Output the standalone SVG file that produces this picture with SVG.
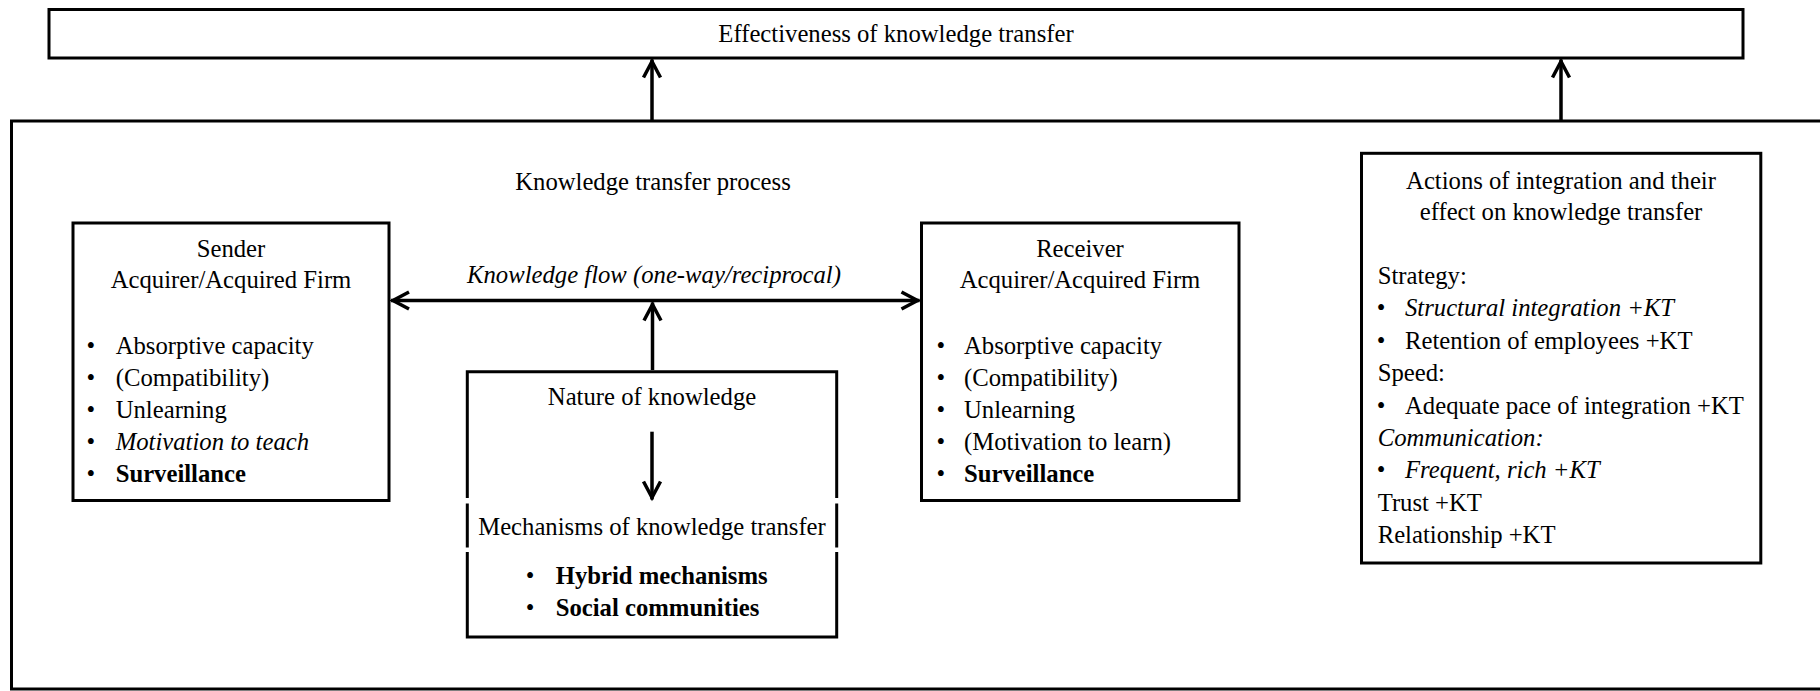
<svg xmlns="http://www.w3.org/2000/svg" width="1820" height="691" viewBox="0 0 1820 691">
  <style>
    text { font-family: "Liberation Serif", "Times New Roman", serif; font-size: 24.7px; fill: #000; }
    .c { text-anchor: middle; }
    .i { font-style: italic; }
    .b { font-weight: bold; }
    .box { fill: #fff; stroke: #000; stroke-width: 3; }
    .edge { fill: none; stroke: #000; stroke-width: 3; }
    .conn { fill: none; stroke: #000; stroke-width: 3.5; }
  </style>
  <defs>
    <marker id="chev" markerUnits="userSpaceOnUse" markerWidth="40" markerHeight="40" viewBox="-30 -20 40 40" refX="0" refY="0" orient="auto-start-reverse" overflow="visible">
      <path d="M -18 -8.5 L -2 0 L -18 8.5" fill="none" stroke="#000" stroke-width="3.5" stroke-linejoin="miter"/>
    </marker>
  </defs>

  <!-- outer frame of the transfer process (runs off the right edge) -->
  <g id="process-frame">
    <rect class="box" x="11.5" y="121" width="1830" height="568"/>
    <text class="c" x="653" y="190">Knowledge transfer process</text>
  </g>

  <!-- outcome -->
  <g id="effectiveness">
    <rect class="box" x="49" y="9.5" width="1694" height="48.5"/>
    <text class="c" x="896" y="42">Effectiveness of knowledge transfer</text>
  </g>

  <!-- sender -->
  <g id="sender">
    <rect class="box" x="73" y="223" width="316" height="277.5"/>
    <text class="c" x="231" y="257">Sender</text>
    <text class="c" x="231" y="288">Acquirer/Acquired Firm</text>
    <text x="86.5" y="354">•</text><text x="115.7" y="354">Absorptive capacity</text>
    <text x="86.5" y="386">•</text><text x="115.7" y="386">(Compatibility)</text>
    <text x="86.5" y="418">•</text><text x="115.7" y="418">Unlearning</text>
    <text x="86.5" y="450">•</text><text class="i" x="115.7" y="450">Motivation to teach</text>
    <text x="86.5" y="482">•</text><text class="b" x="115.7" y="482">Surveillance</text>
  </g>

  <!-- receiver -->
  <g id="receiver">
    <rect class="box" x="921.5" y="223" width="317.5" height="277.5"/>
    <text class="c" x="1080" y="257">Receiver</text>
    <text class="c" x="1080" y="288">Acquirer/Acquired Firm</text>
    <text x="936.4" y="354">•</text><text x="964" y="354">Absorptive capacity</text>
    <text x="936.4" y="386">•</text><text x="964" y="386">(Compatibility)</text>
    <text x="936.4" y="418">•</text><text x="964" y="418">Unlearning</text>
    <text x="936.4" y="450">•</text><text x="964" y="450">(Motivation to learn)</text>
    <text x="936.4" y="482">•</text><text class="b" x="964" y="482">Surveillance</text>
  </g>

  <!-- nature of knowledge and mechanisms -->
  <g id="knowledge-mechanisms">
    <rect x="467.3" y="371.7" width="369.4" height="265.3" fill="#fff"/>
    <path class="edge" d="M 467.3 498 V 371.7 H 836.7 V 498 M 467.3 503.5 V 547.5 M 836.7 503.5 V 547.5 M 467.3 552 V 637 H 836.7 V 552"/>
    <text class="c" x="652" y="405">Nature of knowledge</text>
    <text class="c" x="652" y="535">Mechanisms of knowledge transfer</text>
    <text x="525.7" y="584">•</text><text class="b" x="555.7" y="584">Hybrid mechanisms</text>
    <text x="525.7" y="616">•</text><text class="b" x="555.7" y="616">Social communities</text>
  </g>

  <!-- integration actions -->
  <g id="integration-actions">
    <rect class="box" x="1361.5" y="153.3" width="399.3" height="409.7"/>
    <text class="c" x="1561" y="189">Actions of integration and their</text>
    <text class="c" x="1561" y="220">effect on knowledge transfer</text>
    <text x="1377.7" y="284">Strategy:</text>
    <text x="1376.7" y="316.4">•</text><text class="i" x="1405" y="316.4">Structural integration +KT</text>
    <text x="1376.7" y="348.8">•</text><text x="1405" y="348.8">Retention of employees +KT</text>
    <text x="1377.7" y="381.2">Speed:</text>
    <text x="1376.7" y="413.6">•</text><text x="1405" y="413.6">Adequate pace of integration +KT</text>
    <text class="i" x="1377.7" y="446">Communication:</text>
    <text x="1376.7" y="478.4">•</text><text class="i" x="1405" y="478.4">Frequent, rich +KT</text>
    <text x="1377.7" y="510.8">Trust +KT</text>
    <text x="1377.7" y="543.2">Relationship +KT</text>
  </g>

  <!-- connectors -->
  <g id="connectors">
    <line class="conn" x1="652" y1="121" x2="652" y2="59.5" marker-end="url(#chev)"/>
    <line class="conn" x1="1561" y1="121" x2="1561" y2="59.5" marker-end="url(#chev)"/>
    <line class="conn" x1="391" y1="300.5" x2="919.5" y2="300.5" marker-start="url(#chev)" marker-end="url(#chev)"/>
    <text class="c i" x="654" y="283">Knowledge flow (one-way/reciprocal)</text>
    <line class="conn" x1="652.5" y1="370" x2="652.5" y2="302.5" marker-end="url(#chev)"/>
    <line class="conn" x1="652" y1="431.7" x2="652" y2="499.5" marker-end="url(#chev)"/>
  </g>
</svg>
